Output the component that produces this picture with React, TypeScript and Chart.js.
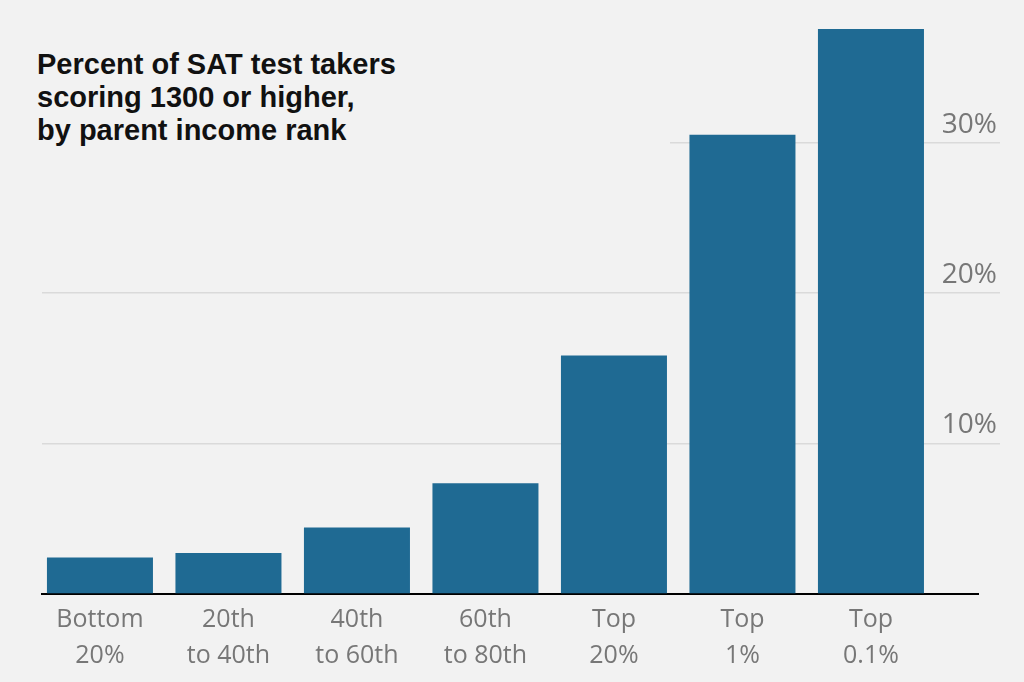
import React, { useEffect, useRef } from 'react';
import { Chart, registerables } from 'chart.js';

Chart.register(...registerables);

const categories: string[][] = [
  ['Bottom', '20%'],
  ['20th', 'to 40th'],
  ['40th', 'to 60th'],
  ['60th', 'to 80th'],
  ['Top', '20%'],
  ['Top', '1%'],
  ['Top', '0.1%'],
];
const values: number[] = [2.4, 2.7, 4.4, 7.35, 15.85, 30.55, 37.6];
const yTicks: number[] = [10, 20, 30];
const titleLines: string[] = [
  'Percent of SAT test takers',
  'scoring 1300 or higher,',
  'by parent income rank',
];

const BG = '#f2f2f2';

export default function App() {
  const ref = useRef<HTMLCanvasElement>(null);

  useEffect(() => {
    document.body.style.margin = '0';
    const canvas = ref.current;
    if (!canvas) return;
    const chart = new Chart(canvas, {
      type: 'bar',
      data: {
        datasets: [
          {
            data: values.map((v, i) => ({ x: i, y: v })),
            backgroundColor: '#1f6a93',
            borderWidth: 0,
            categoryPercentage: 1,
            barPercentage: 0.825,
          },
        ],
      },
      options: {
        animation: false,
        responsive: false,
        maintainAspectRatio: false,
        layout: { padding: { left: 42, right: 24, top: 10, bottom: 0 } },
        plugins: {
          legend: { display: false },
          tooltip: { enabled: false },
          title: { display: false },
        },
        scales: {
          x: {
            type: 'linear',
            min: -0.451,
            max: 6.833,
            offset: false,
            z: 1,
            grid: { display: false, drawTicks: false, offset: false },
            border: { display: true, color: '#000000', width: 2 },
            afterBuildTicks: (s: any) => {
              s.ticks = categories.map((_, i) => ({ value: i }));
            },
            afterFit: (s: any) => {
              s.height = 88.5;
              s.paddingLeft = 0;
              s.paddingRight = 0;
            },
            ticks: {
              autoSkip: false,
              maxRotation: 0,
              minRotation: 0,
              padding: 8,
              color: '#777777',
              font: { family: '"Open Sans"', size: 25, lineHeight: '36px' },
              callback: (v: any) => categories[Number(v)] ?? '',
            },
          },
          y: {
            type: 'linear',
            position: 'right',
            min: 0,
            max: 38.86,
            z: 1,
            grid: { color: '#dadada', lineWidth: 1.5, tickLength: 22, drawTicks: true },
            border: { display: false },
            afterBuildTicks: (s: any) => {
              s.ticks = yTicks.map((v) => ({ value: v }));
            },
            afterFit: (s: any) => {
              s.width = 22;
              s.paddingTop = 0;
              s.paddingBottom = 0;
            },
            ticks: {
              mirror: true,
              padding: 19,
              labelOffset: -18,
              color: '#777777',
              font: { family: '"Open Sans"', size: 28 },
              callback: (v: any) => `${v}%`,
            },
          },
        },
      },
    } as any);
    return () => chart.destroy();
  }, []);

  return (
    <div style={{ position: 'relative', width: 1024, height: 682, background: BG, overflow: 'hidden' }}>
      <canvas ref={ref} width={1024} height={682} style={{ display: 'block', width: 1024, height: 682 }} />
      <div
        style={{
          position: 'absolute',
          left: 0,
          top: 30,
          width: 670,
          height: 125,
          background: BG,
        }}
      />
      <div
        style={{
          position: 'absolute',
          left: 37,
          top: 48,
          fontFamily: '"Liberation Sans", Arial, sans-serif',
          fontWeight: 700,
          fontSize: 29,
          lineHeight: '33px',
          color: '#111111',
          whiteSpace: 'nowrap',
        }}
      >
        {titleLines.map((t) => (
          <div key={t}>{t}</div>
        ))}
      </div>
    </div>
  );
}
